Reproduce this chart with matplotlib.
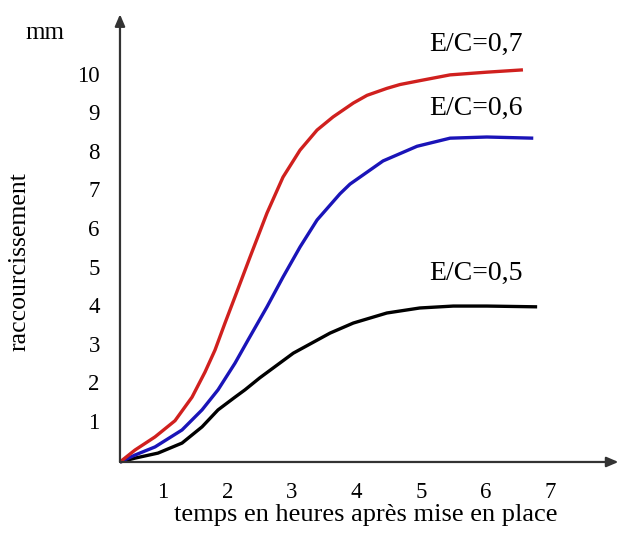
import matplotlib
matplotlib.use("Agg")
import matplotlib.pyplot as plt

# values (hours, mm)
x_red = [0.333, 0.566, 0.876, 1.186, 1.450, 1.651, 1.806, 1.961, 2.116, 2.349, 2.612,
         2.860, 3.124, 3.388, 3.636, 3.95, 4.163, 4.47, 4.674, 4.98, 5.45, 6.02, 6.58]
y_red = [0.0, 0.31, 0.65, 1.07, 1.68, 2.33, 2.90, 3.60, 4.28, 5.31, 6.45,
         7.38, 8.08, 8.60, 8.94, 9.30, 9.50, 9.68, 9.78, 9.88, 10.03, 10.10, 10.16]

x_blue = [0.333, 0.566, 0.876, 1.295, 1.605, 1.853, 2.116, 2.318, 2.612, 2.860, 3.124,
          3.388, 3.744, 3.899, 4.411, 4.938, 5.45, 6.02, 6.74]
y_blue = [0.0, 0.18, 0.39, 0.83, 1.35, 1.87, 2.56, 3.16, 4.02, 4.79, 5.57,
          6.27, 6.95, 7.20, 7.80, 8.18, 8.39, 8.42, 8.39]

x_black = [0.333, 0.566, 0.922, 1.295, 1.605, 1.853, 2.116, 2.271, 2.50, 3.02, 3.59,
           3.95, 4.47, 4.98, 5.50, 6.02, 6.80]
y_black = [0.0, 0.10, 0.23, 0.49, 0.91, 1.35, 1.68, 1.87, 2.18, 2.82, 3.34,
           3.60, 3.86, 3.99, 4.04, 4.04, 4.02]

curve_labels = ["E/C=0,7", "E/C=0,6", "E/C=0,5"]
x_ticks = [1, 2, 3, 4, 5, 6, 7]
y_ticks = [1, 2, 3, 4, 5, 6, 7, 8, 9, 10]

serif = ["Liberation Serif", "DejaVu Serif"]
axis_col = "#333333"

fig = plt.figure(figsize=(6.21, 5.33), dpi=100)
ax = fig.add_axes([0, 0, 1, 1])
ax.set_xlim(-1.527, 8.10)
ax.set_ylim(-1.84, 11.97)
ax.axis("off")

x0 = 0.333
arrow = dict(arrowstyle="-|>,head_length=0.7,head_width=0.3",
             color=axis_col, lw=1.6, shrinkA=0, shrinkB=0)
ax.annotate("", xy=(8.06, 0), xytext=(x0, 0), arrowprops=arrow)
ax.annotate("", xy=(x0, 11.6), xytext=(x0, 0), arrowprops=arrow)

line_kw = dict(lw=2.4, solid_joinstyle="round", solid_capstyle="butt")
ax.plot(x_black, y_black, color="black", **line_kw)
ax.plot(x_blue, y_blue, color="#1a14b8", **line_kw)
ax.plot(x_red, y_red, color="#d0201e", **line_kw)

for t in x_ticks:
    ax.text(t, -0.78, str(t), ha="center", va="center", fontsize=16.5, family=serif)
for t in y_ticks:
    ax.text(0.02, t, str(t), ha="right", va="center", fontsize=16.5, family=serif)

ax.text(-0.83, 11.12, "mm", ha="center", va="center", fontsize=18, family=serif)
ax.text(-1.22, 5.18, "raccourcissement", ha="center", va="center",
        rotation=90, fontsize=18.5, family=serif)
ax.text(4.15, -1.37, "temps en heures après mise en place", ha="center",
        va="center", fontsize=19, family=serif)

label_y = [10.82, 9.16, 4.88]
for lab, ly in zip(curve_labels, label_y):
    ax.text(5.85, ly, lab, ha="center", va="center", fontsize=20, family=serif)

fig.savefig("out.png", dpi=100)
